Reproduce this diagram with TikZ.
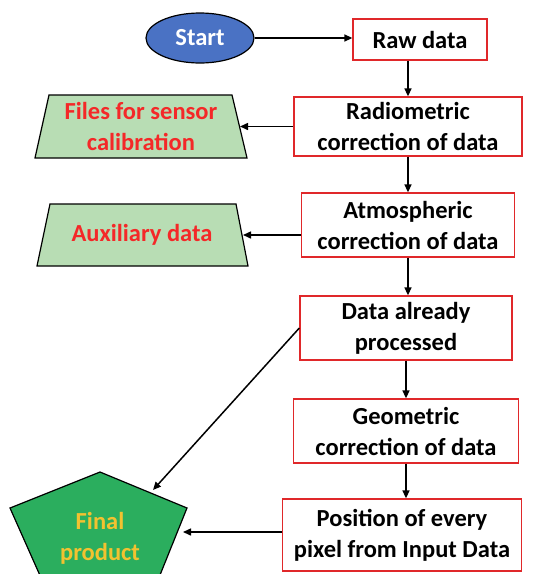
\documentclass[tikz,border=0pt]{standalone}
\usepackage{fontspec}
\setmainfont{Carlito}
\usetikzlibrary{arrows.meta,shapes.geometric}
\definecolor{boxred}{HTML}{E0282A}
\definecolor{startblue}{HTML}{4A72C4}
\definecolor{trapgreen}{HTML}{B8DDB4}
\definecolor{txtred}{HTML}{F42828}
\definecolor{pentgreen}{HTML}{2BAE5E}
\definecolor{gold}{HTML}{F2C230}
\tikzset{
  x=1pt, y=-1pt,
  lbl/.style={font=\bfseries\fontsize{24.5}{31}\selectfont, align=center, inner sep=0pt},
  procbox/.style={draw=boxred, line width=1.3pt, fill=white, lbl, text=black},
  flow/.style={line width=1.5pt, -{Triangle[length=8pt,width=7pt]}},
  shapeline/.style={draw=black, line width=1.2pt},
}
\begin{document}
\begin{tikzpicture}
\useasboundingbox (0,0) rectangle (536,574);
% start
\node[ellipse, draw=black, line width=1.2pt, fill=startblue, minimum width=108pt, minimum height=50pt, lbl, text=white] (start) at (200,38) {Start};
% process boxes
\node[procbox, minimum width=134pt, minimum height=41pt] (raw) at (420,39.5) {Raw data};
\node[procbox, minimum width=228pt, minimum height=59pt] (radio) at (408,126.5) {Radiometric\\correction of data};
\node[procbox, minimum width=213pt, minimum height=64pt] (atmo) at (408,225) {Atmospheric\\correction of data};
\node[procbox, minimum width=212pt, minimum height=64pt] (proc) at (406,328) {Data already\\processed};
\node[procbox, minimum width=225pt, minimum height=64pt] (geo) at (406,431) {Geometric\\correction of data};
\node[procbox, minimum width=239pt, minimum height=72pt] (pos) at (402,535) {Position of every\\pixel from Input Data};
% trapezoids
\path[shapeline, fill=trapgreen] (49,95) -- (232,95) -- (247,158) -- (35,158) -- cycle;
\node[lbl, text=txtred] (files) at (141,126.5) {Files for sensor\\calibration};
\coordinate (filesR) at (240,126.5);
\path[shapeline, fill=trapgreen] (50,204) -- (236,204) -- (248,266) -- (37,266) -- cycle;
\node[lbl, text=txtred] (aux) at (142,235) {Auxiliary data};
\coordinate (auxR) at (243,235);
% pentagon
\path[shapeline, fill=pentgreen] (100,472) -- (187,508) -- (158,580) -- (42,580) -- (10,508) -- cycle;
\node[lbl, text=gold] (final) at (100,538) {Final\\product};
\coordinate (finalR) at (183,532);
\coordinate (finalTR) at (153,490);
% connectors
\draw[flow] (start.east) -- (raw.west |- start.east);
\draw[flow] (raw.south -| radio.north) -- (radio.north);
\draw[flow] (radio.west) -- (filesR);
\draw[flow] (radio.south) -- (atmo.north);
\draw[flow] (atmo.west |- auxR) -- (auxR);
\draw[flow] (atmo.south) -- (proc.north -| atmo.south);
\draw[flow] (proc.south) -- (geo.north);
\draw[flow] (geo.south) -- (geo.south |- pos.north);
\draw[flow] (pos.west |- finalR) -- (finalR);
\draw[flow] (proc.west) -- (finalTR);
\end{tikzpicture}
\end{document}
